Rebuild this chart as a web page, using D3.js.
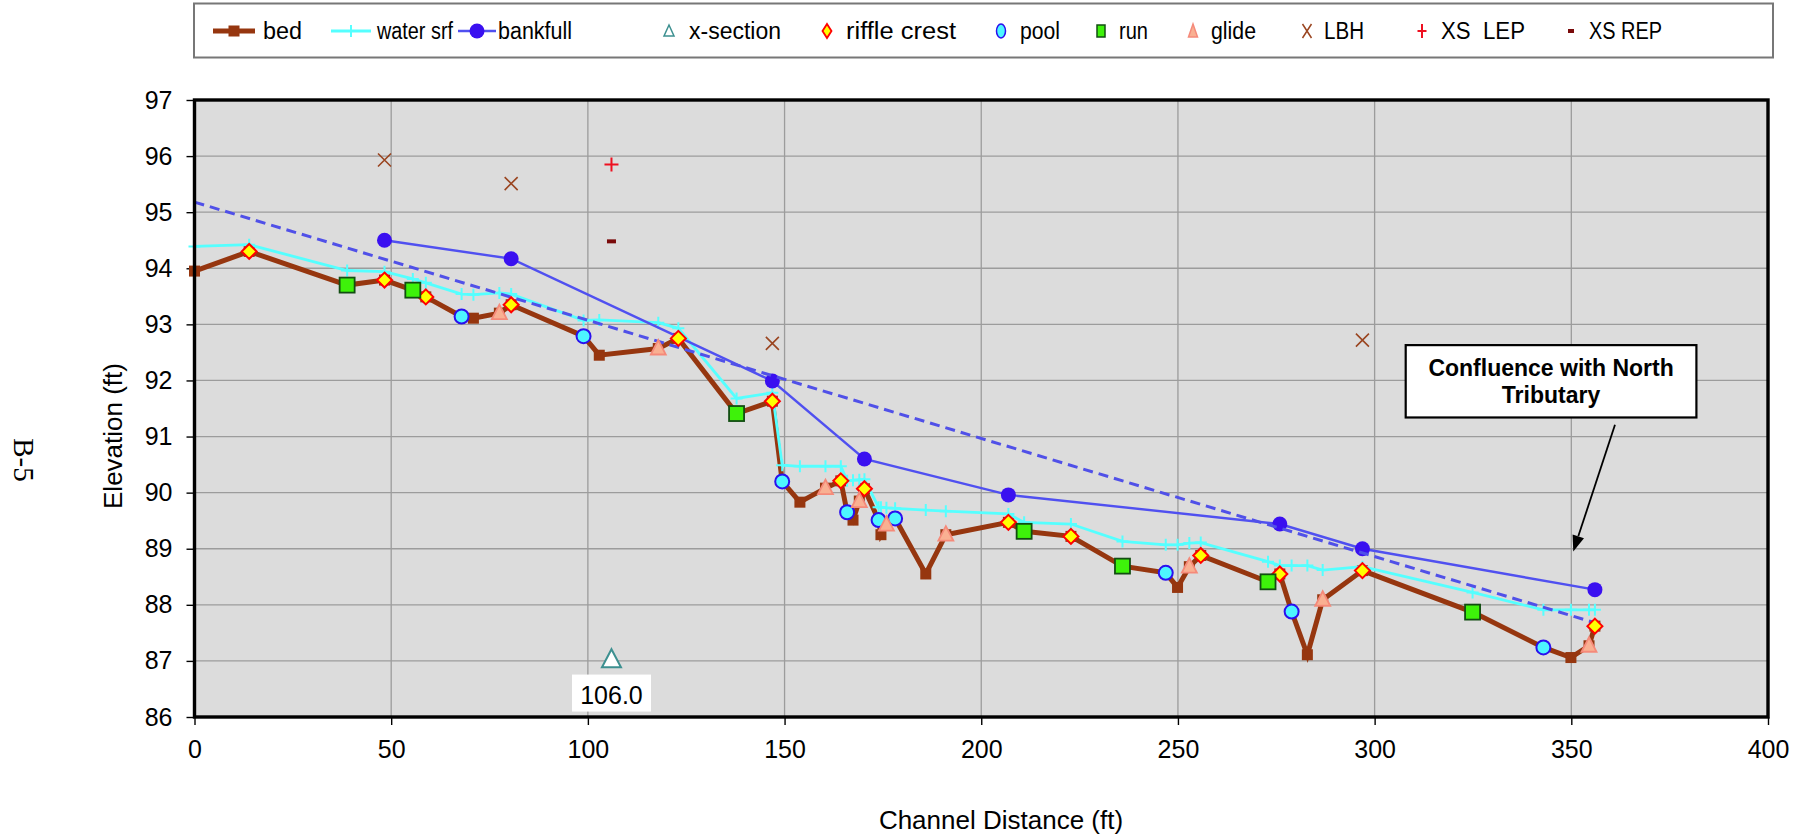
<!DOCTYPE html>
<html>
<head>
<meta charset="utf-8">
<script src="https://cdn.jsdelivr.net/npm/d3@7"></script>
<style>
  html, body { margin: 0; padding: 0; background: #ffffff; }
  svg { display: block; }
  text { font-family: Arial, "Liberation Sans", sans-serif; }
</style>
</head>
<body>
<svg id="chart" width="1809" height="838"></svg>
<script>
// ---- Longitudinal profile data (station in ft, elevation in ft) ----
const stations = [0, 13.9, 38.8, 48.3, 55.5, 58.8, 67.9, 70.9, 77.5, 80.5, 98.9, 102.9, 117.9, 123.0, 137.8, 146.9,
  149.4, 153.9, 160.4, 164.3, 165.9, 167.4, 169.0, 170.3, 173.9, 174.5, 175.9, 178.1, 185.9, 191.0, 206.9, 210.9,
  222.8, 235.9, 246.9, 249.9, 252.9, 255.8, 272.9, 275.9, 278.9, 282.9, 286.8, 296.9, 324.9, 342.9, 349.9, 354.5, 356.0];
const bedElev = [93.95, 94.30, 93.70, 93.79, 93.61, 93.49, 93.14, 93.11, 93.20, 93.35, 92.79, 92.45, 92.57, 92.75, 91.41, 91.63,
  90.20, 89.83, 90.08, 90.21, 89.65, 89.51, 89.85, 90.07, 89.51, 89.25, 89.43, 89.54, 88.55, 89.25, 89.47, 89.31,
  89.22, 88.69, 88.57, 88.31, 88.68, 88.88, 88.41, 88.55, 87.88, 87.11, 88.09, 88.61, 87.87, 87.24, 87.06, 87.27, 87.62];
const waterElev = [94.39, 94.42, 93.96, 93.94, 93.81, 93.74, 93.54, 93.53, 93.56, 93.54, 93.07, 93.08, 93.03, 92.93, 91.68, 91.78,
  90.49, 90.47, 90.47, 90.47, 90.21, 90.22, 90.23, 90.24, 89.74, 89.74, 89.73, 89.72, 89.69, 89.67, 89.62, 89.47,
  89.44, 89.13, 89.07, 89.07, 89.10, 89.11, 88.77, 88.70, 88.70, 88.70, 88.62, 88.68, 88.22, 87.91, 87.91, 87.91, 87.91];

const bankfullSta = [48.3, 80.5, 146.9, 170.3, 206.9, 275.9, 296.9, 356.0];
const bankfullElev = [94.50, 94.17, 91.99, 90.60, 89.96, 89.44, 89.00, 88.27];

const riffleSta = [13.9, 48.3, 58.8, 80.5, 123.0, 146.9, 164.3, 170.3, 206.9, 222.8, 255.8, 275.9, 296.9, 356.0];
const riffleElev = [94.30, 93.79, 93.49, 93.35, 92.75, 91.63, 90.21, 90.07, 89.47, 89.22, 88.88, 88.55, 88.61, 87.62];

const poolSta = [67.9, 98.9, 149.4, 165.9, 173.9, 178.1, 246.9, 278.9, 342.9];
const poolElev = [93.14, 92.79, 90.20, 89.65, 89.51, 89.54, 88.57, 87.88, 87.24];

const runSta = [38.8, 55.5, 137.8, 210.9, 235.9, 272.9, 324.9];
const runElev = [93.70, 93.61, 91.41, 89.31, 88.69, 88.41, 87.87];

const glideSta = [77.5, 117.9, 160.4, 169.0, 175.9, 191.0, 252.9, 286.8, 354.5];
const glideElev = [93.20, 92.57, 90.08, 89.85, 89.43, 89.25, 88.68, 88.09, 87.27];

const lbhSta = [48.3, 80.5, 146.9, 296.9];
const lbhElev = [95.93, 95.51, 92.66, 92.72];

const xsSta = [106.0];
const xsElev = [87.03];
const xsLepSta = [106.0];
const xsLepElev = [95.85];
const xsRepSta = [106.0];
const xsRepElev = [94.48];

// dashed slope line
const trendSta = [0, 356.0];
const trendElev = [95.18, 87.68];

const xTicks = [0, 50, 100, 150, 200, 250, 300, 350, 400];
const yTicks = [86, 87, 88, 89, 90, 91, 92, 93, 94, 95, 96, 97];

const legendNames = ["bed", "water srf", "bankfull", "x-section", "riffle crest", "pool", "run", "glide", "LBH", "XS  LEP", "XS REP"];

// ---- Layout ----
const svg = d3.select("#chart");
const plot = { left: 194.5, right: 1768, top: 100, bottom: 717 };

const x = d3.scaleLinear().domain([0, 400]).range([plot.left, plot.right]);
const y = d3.scaleLinear().domain([86, 97]).range([plot.bottom, plot.top]);

const C = {
  bed: "#96360f",
  water: "#55ffff",
  bank: "#5050f0",
  bankDot: "#3a10f0",
  trend: "#5050e8",
  grid: "#9c9c9c",
  plotBg: "#dcdcdc"
};

// Plot background
svg.append("rect")
  .attr("x", plot.left).attr("y", plot.top)
  .attr("width", plot.right - plot.left).attr("height", plot.bottom - plot.top)
  .attr("fill", C.plotBg);

// Gridlines
const grid = svg.append("g");
grid.selectAll("line.h").data(yTicks).join("line")
  .attr("x1", plot.left).attr("x2", plot.right)
  .attr("y1", d => y(d)).attr("y2", d => y(d))
  .attr("stroke", C.grid).attr("stroke-width", 1.3);
grid.selectAll("line.v").data(xTicks).join("line")
  .attr("y1", plot.top).attr("y2", plot.bottom)
  .attr("x1", d => x(d)).attr("x2", d => x(d))
  .attr("stroke", C.grid).attr("stroke-width", 1.3);

// Axes
const yAxis = svg.append("g")
  .attr("transform", `translate(${plot.left},0)`)
  .call(d3.axisLeft(y).tickValues(yTicks).tickSize(8).tickPadding(14).tickFormat(d3.format("d")));
const xAxis = svg.append("g")
  .attr("transform", `translate(0,${plot.bottom})`)
  .call(d3.axisBottom(x).tickValues(xTicks).tickSize(8).tickPadding(15).tickFormat(d3.format("d")));
[yAxis, xAxis].forEach(g => {
  g.select(".domain").remove();
  g.selectAll(".tick line").attr("stroke", "#000").attr("stroke-width", 1.4);
  g.selectAll(".tick text").attr("fill", "#000").style("font-size", "25px")
    .style("font-family", "Arial, 'Liberation Sans', sans-serif");
});

// Axis titles
svg.append("text")
  .attr("transform", "translate(122,436) rotate(-90)")
  .attr("text-anchor", "middle")
  .style("font-size", "26px").text("Elevation (ft)");
svg.append("text")
  .attr("x", 1001).attr("y", 829)
  .attr("text-anchor", "middle")
  .style("font-size", "26px").text("Channel Distance (ft)");

// Page label
svg.append("text")
  .attr("transform", "translate(14,460) rotate(90)")
  .attr("text-anchor", "middle")
  .style("font-family", "'Liberation Serif', 'Times New Roman', serif")
  .style("font-size", "29px").text("B-5");

// ---- Series ----
const zip = (xs, ys) => xs.map((d, i) => [d, ys[i]]);
const line = d3.line().x(d => x(d[0])).y(d => y(d[1]));
const g = svg.append("g");

// marker symbol helpers
const sym = {
  bedSq: s => s.append("rect").attr("x", -5.5).attr("y", -5.5).attr("width", 11).attr("height", 11).attr("fill", C.bed),
  plus: (s, col, w, len) => s.append("path").attr("d", `M${-len},0H${len}M0,${-len}V${len}`).attr("stroke", col).attr("stroke-width", w).attr("fill", "none"),
  dot: s => s.append("circle").attr("r", 7.5).attr("fill", C.bankDot),
  xsTri: s => s.append("path").attr("d", "M0,-10L9.5,8H-9.5Z").attr("fill", "#ffffff").attr("stroke", "#3d9090").attr("stroke-width", 2),
  diamond: s => s.append("path").attr("d", "M0,-7.5L7.5,0L0,7.5L-7.5,0Z").attr("fill", "#ffff00").attr("stroke", "#ff0000").attr("stroke-width", 2),
  pool: s => s.append("circle").attr("r", 7).attr("fill", "#4df6ff").attr("stroke", "#2a10ee").attr("stroke-width", 2),
  run: s => s.append("rect").attr("x", -7.5).attr("y", -7.5).attr("width", 15).attr("height", 15).attr("fill", "#3ef20a").attr("stroke", "#124d12").attr("stroke-width", 1.8),
  glide: s => s.append("path").attr("d", "M0,-8.5L7.5,6H-7.5Z").attr("fill", "#f9b092").attr("stroke", "#f58a7a").attr("stroke-width", 1.8),
  cross: s => s.append("path").attr("d", "M-6.5,-6.5L6.5,6.5M6.5,-6.5L-6.5,6.5").attr("stroke", "#9a4520").attr("stroke-width", 1.6),
  lep: s => s.append("path").attr("d", "M-7,0H7M0,-7V7").attr("stroke", "#ee1020").attr("stroke-width", 2),
  rep: s => s.append("rect").attr("x", -4.5).attr("y", -2).attr("width", 9).attr("height", 4).attr("fill", "#7a0a0a")
};

function markers(pts, draw) {
  const sel = g.append("g").selectAll("g").data(pts).join("g")
    .attr("transform", d => `translate(${x(d[0])},${y(d[1])})`);
  sel.each(function () { draw(d3.select(this)); });
}

// bed
const bedPts = zip(stations, bedElev);
g.append("path").datum(bedPts).attr("d", line)
  .attr("fill", "none").attr("stroke", C.bed).attr("stroke-width", 5).attr("stroke-linejoin", "miter");
markers(bedPts, sym.bedSq);

// water surface
const waterPts = zip(stations, waterElev);
g.append("path").datum(waterPts).attr("d", line)
  .attr("fill", "none").attr("stroke", C.water).attr("stroke-width", 2.8);
markers(waterPts, s => sym.plus(s, C.water, 2, 6));

// bankfull
const bankPts = zip(bankfullSta, bankfullElev);
g.append("path").datum(bankPts).attr("d", line)
  .attr("fill", "none").attr("stroke", C.bank).attr("stroke-width", 2.4);
markers(bankPts, sym.dot);

// slope line
g.append("path").datum(zip(trendSta, trendElev)).attr("d", line)
  .attr("fill", "none").attr("stroke", C.trend).attr("stroke-width", 3).attr("stroke-dasharray", "10,6");

// point features
markers(zip(xsSta, xsElev), sym.xsTri);
markers(zip(riffleSta, riffleElev), sym.diamond);
markers(zip(poolSta, poolElev), sym.pool);
markers(zip(runSta, runElev), sym.run);
markers(zip(glideSta, glideElev), sym.glide);
markers(zip(lbhSta, lbhElev), sym.cross);
markers(zip(xsLepSta, xsLepElev), sym.lep);
markers(zip(xsRepSta, xsRepElev), sym.rep);

// x-section station label
const xsLabel = svg.append("g").attr("transform", `translate(${x(xsSta[0])},${y(86.4)})`);
xsLabel.append("rect").attr("x", -39.5).attr("y", -20).attr("width", 79).attr("height", 37).attr("fill", "#ffffff");
xsLabel.append("text").attr("text-anchor", "middle").attr("y", 9)
  .style("font-size", "25px").text(d3.format(".1f")(xsSta[0]));

// Plot frame
svg.append("rect")
  .attr("x", plot.left).attr("y", plot.top)
  .attr("width", plot.right - plot.left).attr("height", plot.bottom - plot.top)
  .attr("fill", "none").attr("stroke", "#000").attr("stroke-width", 3.4);

// ---- Annotation: confluence ----
const noteBox = { x0: 307.9, x1: 381.8, yTop: 92.63, yBot: 91.34 };
const arrowFrom = [361.1, 91.21], arrowTo = [350.5, 88.95];
svg.append("rect")
  .attr("x", x(noteBox.x0)).attr("y", y(noteBox.yTop))
  .attr("width", x(noteBox.x1) - x(noteBox.x0)).attr("height", y(noteBox.yBot) - y(noteBox.yTop))
  .attr("fill", "#ffffff").attr("stroke", "#000").attr("stroke-width", 2.2);
const noteCx = (x(noteBox.x0) + x(noteBox.x1)) / 2;
const noteText = svg.append("text").attr("text-anchor", "middle")
  .style("font-size", "23px").style("font-weight", "bold");
noteText.append("tspan").attr("x", noteCx).attr("y", y(noteBox.yTop) + 31).text("Confluence with North");
noteText.append("tspan").attr("x", noteCx).attr("y", y(noteBox.yTop) + 58).text("Tributary");

{
  const x1 = x(arrowFrom[0]), y1 = y(arrowFrom[1]), x2 = x(arrowTo[0]), y2 = y(arrowTo[1]);
  const ang = Math.atan2(y2 - y1, x2 - x1);
  const L = 16, Wd = 6;
  const bx = x2 - L * Math.cos(ang), by = y2 - L * Math.sin(ang);
  svg.append("line").attr("x1", x1).attr("y1", y1).attr("x2", bx).attr("y2", by)
    .attr("stroke", "#000").attr("stroke-width", 1.8);
  svg.append("path")
    .attr("d", `M${x2},${y2}L${bx + Wd * Math.sin(ang)},${by - Wd * Math.cos(ang)}L${bx - Wd * Math.sin(ang)},${by + Wd * Math.cos(ang)}Z`)
    .attr("fill", "#000");
}

// ---- Legend ----
const legend = svg.append("g");
legend.append("rect").attr("x", 194).attr("y", 3.5).attr("width", 1579).attr("height", 54)
  .attr("fill", "#ffffff").attr("stroke", "#777").attr("stroke-width", 2);
const legY = 31;
const legSymX = [234, 351, 477, 669, 827, 1001, 1101, 1193, 1307, 1422, 1571];
const legTextX = [263, 377, 498, 689, 846, 1020, 1119, 1211, 1324, 1441, 1589];
const legTextW = [39, 76, 74, 92, 110, 40, 29, 45, 40, 84, 73];
const legDraw = [
  s => { s.append("line").attr("x1", -21).attr("x2", 21).attr("stroke", C.bed).attr("stroke-width", 5); sym.bedSq(s); },
  s => { s.append("line").attr("x1", -20).attr("x2", 20).attr("stroke", C.water).attr("stroke-width", 2.8); sym.plus(s, C.water, 2, 6); },
  s => { s.append("line").attr("x1", -19).attr("x2", 19).attr("stroke", C.bank).attr("stroke-width", 2.4); sym.dot(s); },
  s => s.append("path").attr("d", "M0,-6L5,5H-5Z").attr("fill", "#fff").attr("stroke", "#3d9090").attr("stroke-width", 1.5),
  s => s.append("path").attr("d", "M0,-7L4.5,0L0,7L-4.5,0Z").attr("fill", "#ffff00").attr("stroke", "#ff0000").attr("stroke-width", 1.8),
  s => s.append("ellipse").attr("rx", 4.5).attr("ry", 7).attr("fill", "#4df6ff").attr("stroke", "#2a10ee").attr("stroke-width", 1.5),
  s => s.append("rect").attr("x", -4).attr("y", -6).attr("width", 8).attr("height", 12).attr("fill", "#3ef20a").attr("stroke", "#124d12").attr("stroke-width", 1.5),
  s => s.append("path").attr("d", "M0,-7L4.5,6H-4.5Z").attr("fill", "#f9b092").attr("stroke", "#f58a7a").attr("stroke-width", 1.5),
  s => s.append("path").attr("d", "M-4.5,-7L4.5,7M4.5,-7L-4.5,7").attr("stroke", "#9a4520").attr("stroke-width", 1.5),
  s => s.append("path").attr("d", "M-4.5,0H4.5M0,-7V7").attr("stroke", "#ee1020").attr("stroke-width", 2),
  s => s.append("rect").attr("x", -3).attr("y", -2).attr("width", 6).attr("height", 4).attr("fill", "#7a0a0a")
];
legendNames.forEach((name, i) => {
  const s = legend.append("g").attr("transform", `translate(${legSymX[i]},${legY})`);
  legDraw[i](s);
  legend.append("text").attr("x", legTextX[i]).attr("y", legY + 8)
    .style("font-size", "23px").style("white-space", "pre")
    .attr("xml:space", "preserve")
    .attr("textLength", legTextW[i]).attr("lengthAdjust", "spacingAndGlyphs")
    .text(name);
});
</script>
</body>
</html>
